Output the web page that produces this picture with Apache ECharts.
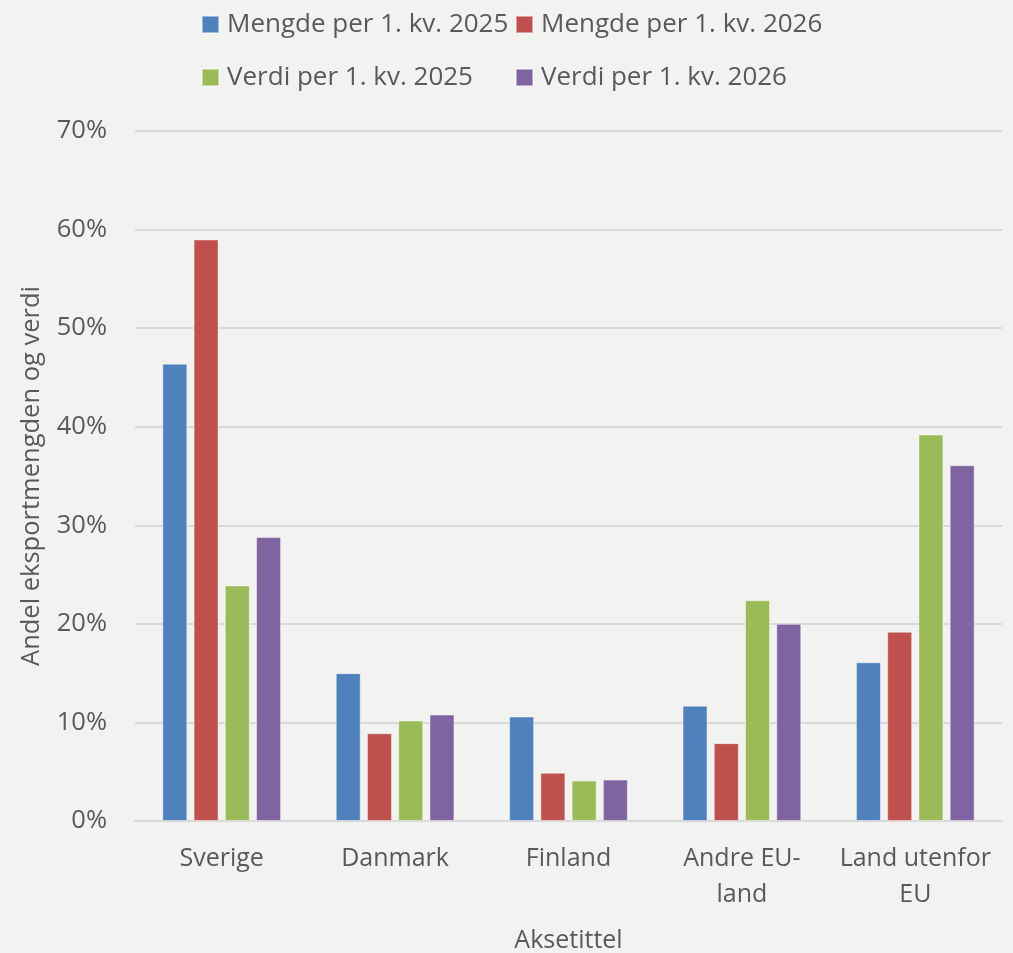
<!DOCTYPE html>
<html>
<head>
<meta charset="utf-8">
<script src="https://cdn.jsdelivr.net/npm/echarts@6/dist/echarts.min.js"></script>
<style>
html,body{margin:0;padding:0;background:#f2f2f0;overflow:hidden;}
#chart{width:1013px;height:953px;}
</style>
</head>
<body>
<div id="chart"></div>
<script>
const categories = ['Sverige', 'Danmark', 'Finland', 'Andre EU-land', 'Land utenfor EU'];
const xTickLabels = ['Sverige', 'Danmark', 'Finland', 'Andre EU-\nland', 'Land utenfor\nEU'];
const seriesNames = ['Mengde per 1. kv. 2025', 'Mengde per 1. kv. 2026', 'Verdi per 1. kv. 2025', 'Verdi per 1. kv. 2026'];
const mengde2025 = [46.4, 15.0, 10.6, 11.7, 16.1];
const mengde2026 = [59.0, 8.9, 4.9, 7.9, 19.2];
const verdi2025 = [23.9, 10.2, 4.1, 22.4, 39.2];
const verdi2026 = [28.8, 10.8, 4.2, 20.0, 36.1];
const yTicks = [0, 10, 20, 30, 40, 50, 60, 70];
const colors = ['#4f81bd', '#c0504d', '#9bbb59', '#8064a2'];

const FONT = 'Open Sans';
const TXT = '#595959';
const values = [mengde2025, mengde2026, verdi2025, verdi2026];

const legendPos = [[201, 9.5], [515, 9.5], [201, 62.5], [515, 62.5]];
const legends = seriesNames.map((n, i) => ({
  data: [n],
  left: legendPos[i][0],
  top: legendPos[i][1],
  padding: 0,
  itemWidth: 17,
  itemHeight: 17,
  icon: 'rect',
  selectedMode: false,
  textStyle: { fontFamily: FONT, fontSize: 26, color: TXT, lineHeight: 30, padding: [0, 0, 0, 3] }
}));

const chart = echarts.init(document.getElementById('chart'));
chart.setOption({
  backgroundColor: '#f2f2f0',
  animation: false,
  color: colors,
  legend: legends,
  grid: { left: 135, width: 867, top: 131, height: 690, containLabel: false, outerBoundsMode: 'none' },
  xAxis: {
    type: 'category',
    data: categories,
    name: 'Aksetittel',
    nameLocation: 'middle',
    nameGap: 107,
    nameTextStyle: { fontFamily: FONT, fontSize: 25, color: TXT },
    axisLine: { lineStyle: { color: '#d9d9d9', width: 2 } },
    axisTick: { show: false },
    axisLabel: {
      fontFamily: FONT, fontSize: 25, color: TXT, lineHeight: 36, margin: 20,
      interval: 0,
      formatter: (v, i) => xTickLabels[i]
    }
  },
  yAxis: {
    type: 'value',
    min: yTicks[0],
    max: yTicks[yTicks.length - 1],
    interval: 10,
    name: 'Andel eksportmengden og verdi',
    nameLocation: 'middle',
    nameGap: 90,
    nameTextStyle: { fontFamily: FONT, fontSize: 25.5, color: TXT },
    axisLine: { show: false },
    axisTick: { show: false },
    axisLabel: { fontFamily: FONT, fontSize: 25.5, color: TXT, margin: 28, formatter: '{value}%' },
    splitLine: { lineStyle: { color: '#d9d9d9', width: 2 } }
  },
  series: seriesNames.map((n, i) => ({
    name: n,
    type: 'bar',
    data: values[i],
    barWidth: 25,
    barGap: '25%',
    itemStyle: { color: colors[i], borderColor: 'rgba(255,255,255,0.45)', borderWidth: 1 }
  }))
});
</script>
</body>
</html>
